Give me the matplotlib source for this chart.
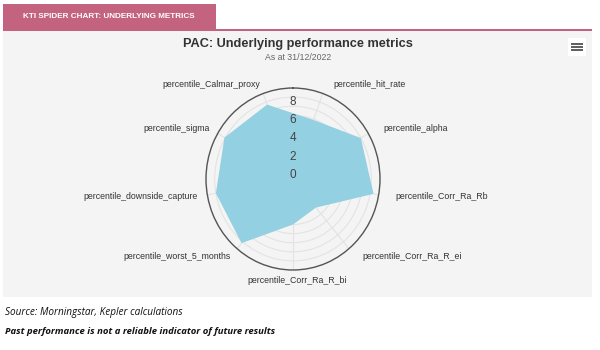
import numpy as np
import matplotlib.pyplot as plt
from matplotlib.patches import Rectangle

# data
categories = ["percentile_hit_rate", "percentile_alpha", "percentile_Corr_Ra_Rb",
              "percentile_Corr_Ra_R_ei", "percentile_Corr_Ra_R_bi",
              "percentile_worst_5_months", "percentile_downside_capture",
              "percentile_sigma", "percentile_Calmar_proxy"]
values = [6.9, 9.0, 9.4, 4.1, 5.0, 9.2, 9.0, 9.1, 8.7]
y_ticks = [0, 2, 4, 6, 8]
y_max = 10

title = "PAC: Underlying performance metrics"
subtitle = "As at 31/12/2022"
tab_text = "KTI SPIDER CHART: UNDERLYING METRICS"
source_text = "Source: Morningstar, Kepler calculations"
note_text = "Past performance is not a reliable indicator of future results"

W, H = 600, 350
fig = plt.figure(figsize=(6, 3.5), dpi=100)
fig.patch.set_facecolor("white")

def fx(px):
    return px / W

def fy(py):
    return 1 - py / H

pink = "#c4637f"
# header tab and rule
fig.patches.append(Rectangle((fx(3), fy(31)), fx(213), 27 / H, transform=fig.transFigure,
                             facecolor=pink, edgecolor="none", zorder=1))
fig.patches.append(Rectangle((fx(3), fy(31)), fx(589), 2 / H, transform=fig.transFigure,
                             facecolor=pink, edgecolor="none", zorder=1))
# grey panel
fig.patches.append(Rectangle((fx(3), fy(297)), fx(589), 266 / H, transform=fig.transFigure,
                             facecolor="#f4f4f4", edgecolor="none", zorder=0))
fig.text(fx(109), fy(17), tab_text, color="white", fontsize=5.9, fontweight="bold",
         ha="center", va="center", family="Liberation Sans")

# hamburger menu icon
fig.patches.append(Rectangle((fx(568), fy(56)), fx(18), 18 / H, transform=fig.transFigure,
                             facecolor="white", edgecolor="none", zorder=1))
for py in [44, 47, 50]:
    fig.patches.append(Rectangle((fx(571), fy(py + 1)), fx(12), 2 / H, transform=fig.transFigure,
                                 facecolor="#606060", edgecolor="none", zorder=2))

fig.text(fx(298), fy(44), title, fontsize=9.2, fontweight="bold", color="#333333",
         ha="center", va="center", family="Liberation Sans")
fig.text(fx(298), fy(57), subtitle, fontsize=6.3, color="#666666",
         ha="center", va="center", family="Liberation Sans")

fig.text(fx(5), fy(312), source_text, fontsize=7.2, style="italic", color="#111111",
         ha="left", va="center", family="Open Sans")
fig.text(fx(5), fy(331), note_text, fontsize=6.8, style="italic", fontweight="bold",
         color="#111111", ha="left", va="center", family="Open Sans")

# polar axes: centre (293, 179) px, slightly squashed like the reference
cx, cy, Rx, Ry = 293, 179, 87, 91
ax = fig.add_axes([fx(cx - Rx), fy(cy + Ry), 2 * Rx / W, 2 * Ry / H], projection="polar")
ax.set_aspect("auto")
ax.set_zorder(5)
ax.set_facecolor("none")
ax.set_theta_zero_location("N")
ax.set_theta_direction(-1)

n = len(categories)
angles = np.deg2rad(20 + 40 * np.arange(n))
ax.set_ylim(0, y_max)
ax.set_yticks(np.arange(1, y_max + 1))
ax.set_yticklabels([])
ax.set_xticks(angles)
ax.set_xticklabels([])
ax.tick_params(length=0)
ax.grid(True, color="#e3e3e3", linewidth=0.8)
ax.spines["polar"].set_color("#555555")
ax.spines["polar"].set_linewidth(1.0)

ang_c = np.concatenate([angles, angles[:1]])
val_c = np.concatenate([values, values[:1]])
ax.fill(ang_c, val_c, color="#93d0e1", zorder=3, linewidth=0)

for t in y_ticks:
    ax.annotate(str(t), (0, t), xytext=(0, 3), textcoords="offset points",
                fontsize=8.5, color="#444444", ha="center", va="center",
                zorder=4, family="Liberation Sans")

r_lab = y_max * 1.11
for a, lab in zip(angles, categories):
    deg = np.rad2deg(a) % 360
    if deg < 5 or deg > 355:
        ha, dx = "center", 0
    elif abs(deg - 180) < 5:
        ha, dx = "center", 3
    elif deg < 180:
        ha, dx = "left", 5
    else:
        ha, dx = "right", 0
    ax.annotate(lab, (a, r_lab), xytext=(dx, 0), textcoords="offset points",
                fontsize=6.3, color="#333333", ha=ha, va="center",
                family="Liberation Sans", annotation_clip=False)

fig.savefig("out.png", dpi=100, facecolor="white")
